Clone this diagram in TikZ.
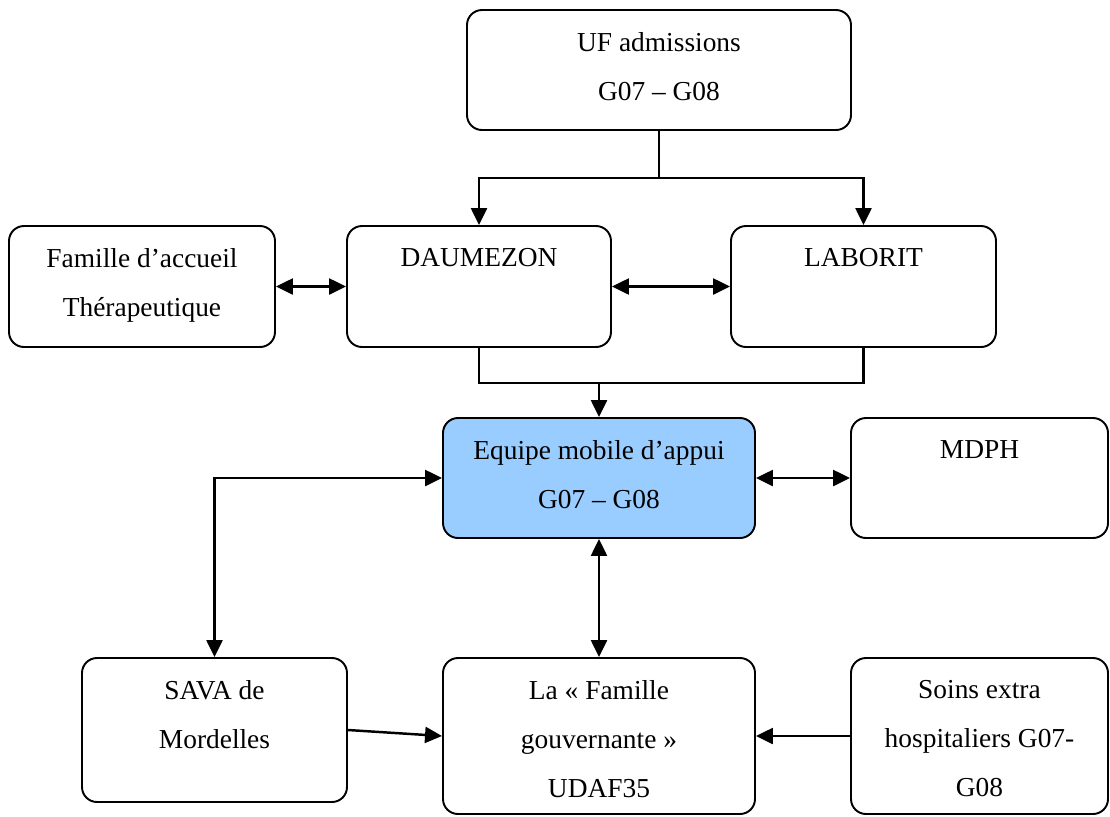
\documentclass[tikz,border=0pt]{standalone}
\usepackage{fontspec}
\setmainfont{Liberation Serif}
\usetikzlibrary{arrows.meta}
\definecolor{appui}{RGB}{153,204,255}

\begin{document}
\begin{tikzpicture}[x=0.02cm, y=-0.02cm,
		box/.style 2 args={draw, line width=1.1pt, rounded corners=0.3cm, inner sep=0pt,
			minimum width=#1*0.02cm, minimum height=#2*0.02cm},
		txt/.style={anchor=north, align=center, inner sep=0pt, font=\fontsize{15.6}{27.9}\selectfont},
		link/.style={line width=1.4pt, -{Triangle[length=0.34cm, width=0.32cm]}},
		both/.style={line width=1.4pt, {Triangle[length=0.34cm, width=0.32cm]}-{Triangle[length=0.34cm, width=0.32cm]}},
		plain/.style={line width=1.4pt}]
		\useasboundingbox (0,0) rectangle (1110,816);
		
		% Draw the boxes
		\node[box={384}{120}] (uf) at (659,70) {};
		\node[box={266}{121}] (accueil) at (142,286.5) {};
		\node[box={264}{121}] (daum) at (479,286.5) {};
		\node[box={265}{121}] (labo) at (863.5,286.5) {};
		\node[box={312}{120}, fill=appui] (ema) at (599,478) {};
		\node[box={257}{120}] (mdph) at (979.5,478) {};
		\node[box={265}{144}] (sava) at (214.5,730) {};
		\node[box={312}{156}] (udaf) at (599,736) {};
		\node[box={257}{156}] (soins) at (979.5,736) {};
		
		% Label the boxes
		\node[txt] (uftxt) at ([yshift=-0.46cm]uf.north) {UF admissions\\G07 – G08};
		\node[txt] (accueiltxt) at ([yshift=-0.46cm]accueil.north) {Famille d’accueil\\Thérapeutique};
		\node[txt] (daumtxt) at ([yshift=-0.46cm]daum.north) {DAUMEZON};
		\node[txt] (labotxt) at ([yshift=-0.46cm]labo.north) {LABORIT};
		\node[txt] (ematxt) at ([yshift=-0.46cm]ema.north) {Equipe mobile d’appui\\G07 – G08};
		\node[txt] (mdphtxt) at ([yshift=-0.46cm]mdph.north) {MDPH};
		\node[txt] (savatxt) at ([yshift=-0.46cm]sava.north) {SAVA de\\Mordelles};
		\node[txt] (udaftxt) at ([yshift=-0.46cm]udaf.north) {La « Famille\\gouvernante »\\UDAF35};
		\node[txt] (soinstxt) at ([yshift=-0.46cm]soins.north) {Soins extra\\hospitaliers G07-\\G08};
		
		% Admissions towards the two units
		\coordinate (split) at (659,178);
		\draw[plain] (uf.south) -- (split);
		\draw[both] (daum.north) |- (split) -| (labo.north);
		
		% The two units towards the mobile team
		\coordinate (join) at (599,383);
		\draw[plain] (daum.south) |- (join) -| (labo.south);
		\draw[link] (join) -- (ema.north);
		
		% Exchanges
		\draw[both] (accueil) -- (daum);
		\draw[both] (daum) -- (labo);
		\draw[both] (ema) -- (mdph);
		\draw[both] (ema.west) -| (sava.north);
		\draw[both] (ema.south) -- (udaf.north);
		\draw[link] (sava.east) -- (udaf.west);
		\draw[link] (soins.west) -- (udaf.east);
	\end{tikzpicture}
\end{document}
